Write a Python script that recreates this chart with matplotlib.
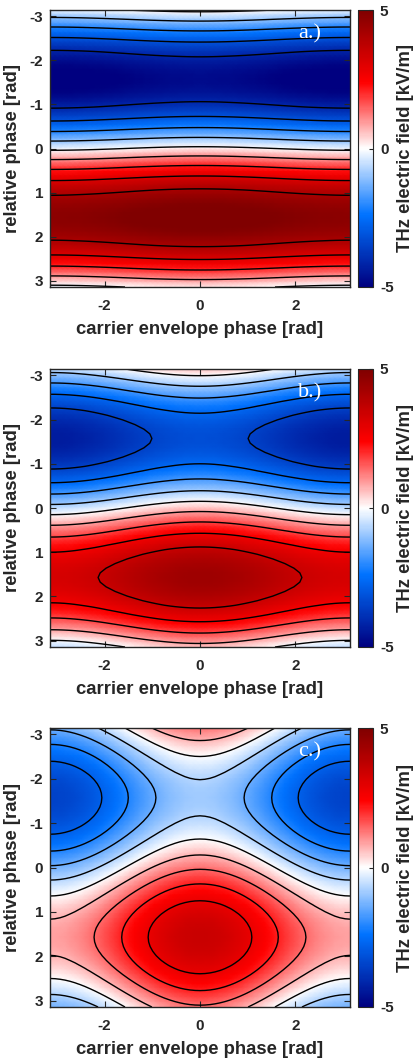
import numpy as np
import matplotlib
matplotlib.use("Agg")
import matplotlib.pyplot as plt
from matplotlib.colors import LinearSegmentedColormap

# ---- data ----
panel_labels = ["a.)", "b.)", "c.)"]
# amplitude of the relative-phase term and of the CEP term (kV/m) per panel
rel_phase_amp = [4.95, 3.80, 2.19]
cep_amp = [0.20, 0.57, 1.31]
n_levels = 11
x_ticks = [-2, 0, 2]
y_ticks = [-3, -2, -1, 0, 1, 2, 3]
cbar_ticks = [-5, 0, 5]
clim = (-5, 5)
x_label = "carrier envelope phase [rad]"
y_label = "relative phase [rad]"
cbar_label = "THz electric field [kV/m]"

# ---- figure ----
W, H = 417, 1063
plt.rcParams["font.family"] = ["Liberation Sans", "DejaVu Sans"]
plt.rcParams["axes.unicode_minus"] = False
fig = plt.figure(figsize=(W / 100, H / 100), dpi=100)
txt = "#262626"

cmap = LinearSegmentedColormap.from_list(
    "rb",
    [(0.0, (0.0, 0.0, 0.5)), (0.26, (0.0, 0.45, 1.0)), (0.5, (1, 1, 1)),
     (0.74, (1.0, 0.0, 0.0)), (1.0, (0.5, 0.0, 0.0))])

cep = np.linspace(-np.pi, np.pi, 61)
rel = np.linspace(-np.pi, np.pi, 61)
CEP, REL = np.meshgrid(cep, rel)

tops = [10, 369, 728]
bottoms = [287, 647, 1007]
ax_l, ax_r = 50, 350
cb_l, cb_r = 358, 373
lab_fs = 13.3

for i in range(3):
    top, bot = tops[i], bottoms[i]
    hgt = bot - top
    ax = fig.add_axes([ax_l / W, 1 - bot / H, (ax_r - ax_l) / W, hgt / H])
    cax = fig.add_axes([cb_l / W, 1 - bot / H, (cb_r - cb_l) / W, hgt / H])

    field = rel_phase_amp[i] * np.sin(REL) + cep_amp[i] * np.cos(CEP)
    fmax = rel_phase_amp[i] + cep_amp[i]
    levels = np.linspace(-fmax, fmax, n_levels)

    pm = ax.pcolormesh(cep, rel, field, cmap=cmap, vmin=clim[0], vmax=clim[1],
                       shading="gouraud", rasterized=True)
    ax.contour(cep, rel, field, levels=levels, colors="black", linewidths=1.0,
               linestyles="solid")
    ax.set_xlim(-np.pi, np.pi)
    ax.set_ylim(np.pi, -np.pi)
    ax.set_xticks(x_ticks)
    ax.set_yticks(y_ticks)
    ax.tick_params(direction="in", length=4, width=0.8, top=True, right=True,
                   labelsize=11, colors=txt)
    ax.tick_params(axis="x", pad=9)
    ax.tick_params(axis="y", pad=5)
    for lab in ax.get_xticklabels() + ax.get_yticklabels():
        lab.set_fontweight("bold")
    for sp in ax.spines.values():
        sp.set_color(txt)
        sp.set_linewidth(1.0)
    ax.set_xlabel(x_label, fontsize=lab_fs, fontweight="bold", color=txt)
    ax.set_ylabel(y_label, fontsize=lab_fs, fontweight="bold", color=txt)
    ax.xaxis.set_label_coords(0.5, -42 / hgt)
    ax.xaxis.label.set_va("center")
    ax.yaxis.set_label_coords(-(ax_l - 13) / (ax_r - ax_l), 0.5)
    ax.yaxis.label.set_va("center")

    ax.text(2.3, -2.6, panel_labels[i], color="white", fontsize=16,
            family=["Liberation Serif", "DejaVu Serif"], ha="center", va="center")

    cb = fig.colorbar(pm, cax=cax, ticks=cbar_ticks)
    cb.outline.set_edgecolor(txt)
    cb.outline.set_linewidth(0.8)
    cax.tick_params(direction="in", length=3, width=0.8, labelsize=11,
                    colors=txt, pad=5)
    for lab in cax.get_yticklabels():
        lab.set_fontweight("bold")
    cb.set_label(cbar_label, fontsize=lab_fs, fontweight="bold", color=txt)
    cax.yaxis.set_label_coords((405 - cb_l) / (cb_r - cb_l), 0.5)
    cax.yaxis.label.set_va("center")

fig.savefig("out.png", dpi=100)
